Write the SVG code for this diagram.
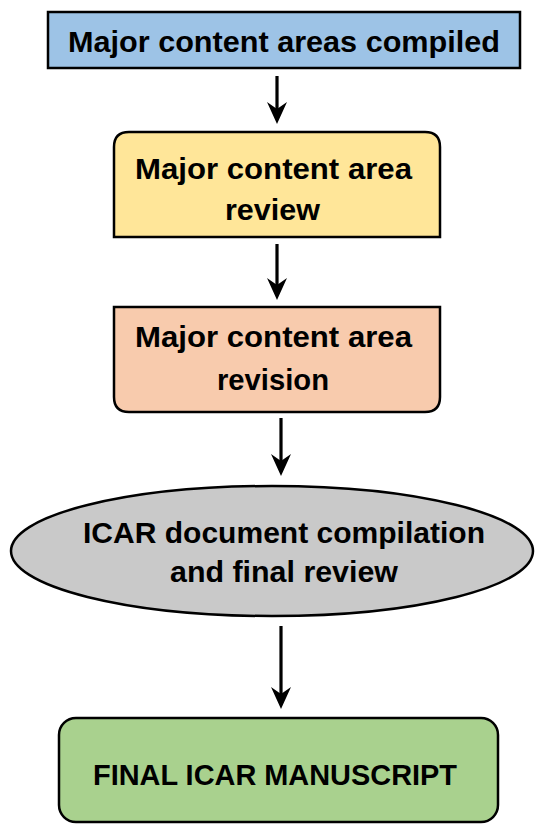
<svg xmlns="http://www.w3.org/2000/svg" width="543" height="825" viewBox="0 0 543 825">
<style>
.shape{stroke:#000;stroke-width:2.5}
.t{font-family:"Liberation Sans",Arial,sans-serif;font-weight:bold;font-size:29px;fill:#000;text-anchor:middle}
.c{stroke:#000;stroke-width:3.2;fill:none}
.h{fill:#000}
</style>
<rect width="543" height="825" fill="#fff"/>
<g id="connectors">
<path class="c" d="M277,76 V110"/><path class="h" d="M277,124 L267,102 L277,109 L287,102 Z"/>
<path class="c" d="M277,244 V286"/><path class="h" d="M277,300 L267,278 L277,285 L287,278 Z"/>
<path class="c" d="M281,418 V462"/><path class="h" d="M281,476 L271,454 L281,461 L291,454 Z"/>
<path class="c" d="M281,626 V695"/><path class="h" d="M281,709 L271,687 L281,694 L291,687 Z"/>
</g>
<g id="n1">
<rect class="shape" x="48" y="12" width="472" height="56" fill="#9DC3E6"/>
<text class="t" x="284" y="52" textLength="432" lengthAdjust="spacingAndGlyphs">Major content areas compiled</text>
</g>
<g id="n2">
<path class="shape" d="M114,237 V147 Q114,132 129,132 H425 Q440,132 440,147 V237 Z" fill="#FFE699"/>
<text class="t" x="273.5" y="179" textLength="277" lengthAdjust="spacingAndGlyphs">Major content area</text>
<text class="t" x="272.5" y="220" textLength="95" lengthAdjust="spacingAndGlyphs">review</text>
</g>
<g id="n3">
<path class="shape" d="M114,307 H440 V397 Q440,412 425,412 H129 Q114,412 114,397 Z" fill="#F8CBAD"/>
<text class="t" x="273.5" y="347" textLength="277" lengthAdjust="spacingAndGlyphs">Major content area</text>
<text class="t" x="273" y="390" textLength="112" lengthAdjust="spacingAndGlyphs">revision</text>
</g>
<g id="n4">
<ellipse class="shape" cx="272" cy="551" rx="261" ry="65" fill="#C9C9C9"/>
<text class="t" x="284" y="543" textLength="402" lengthAdjust="spacingAndGlyphs">ICAR document compilation</text>
<text class="t" x="284" y="582" textLength="228" lengthAdjust="spacingAndGlyphs">and final review</text>
</g>
<g id="n5">
<rect class="shape" x="59" y="718" width="439" height="104" rx="17" fill="#A9D18E"/>
<text class="t" x="275" y="785" textLength="364" lengthAdjust="spacingAndGlyphs">FINAL ICAR MANUSCRIPT</text>
</g>
</svg>
